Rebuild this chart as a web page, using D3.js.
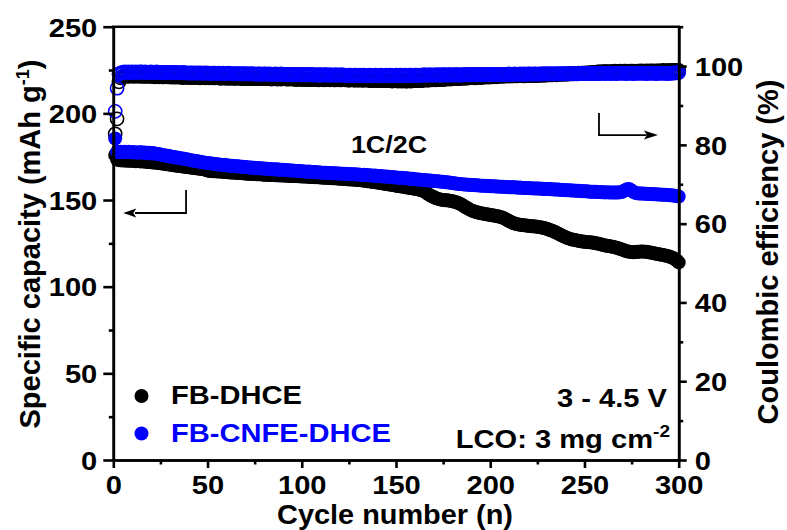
<!DOCTYPE html>
<html>
<head>
<meta charset="utf-8">
<script src="https://cdn.jsdelivr.net/npm/d3@7"></script>
<style>
  body { margin: 0; background: #fff; }
  svg { display: block; }
  text { font-family: "Liberation Sans", Arial, Helvetica, sans-serif; font-weight: bold; }
</style>
</head>
<body>
<svg id="chart" width="787" height="530"></svg>
<script>
// Cycle index 1..300
const cycles = d3.range(1, 301);

// Discharge capacity, FB-DHCE (mAh g-1)
const capacityFB = [
  176.0,173.4,173.0,172.9,172.8,172.9,172.7,172.8,172.6,172.6,
  172.5,172.4,172.5,172.3,172.2,172.3,172.1,172.0,171.9,171.8,
  171.7,171.6,171.5,171.3,171.2,171.0,170.9,170.7,170.6,170.4,
  170.2,170.1,169.9,169.8,169.6,169.5,169.3,169.2,169.0,168.9,
  168.8,168.6,168.5,168.3,168.2,168.0,167.9,167.7,167.4,167.0,
  166.8,166.7,166.6,166.6,166.5,166.4,166.4,166.3,166.2,166.1,
  166.0,165.9,165.9,165.8,165.7,165.6,165.6,165.5,165.4,165.3,
  165.2,165.2,165.1,165.0,165.0,164.9,164.8,164.8,164.7,164.6,
  164.6,164.5,164.5,164.4,164.4,164.3,164.3,164.2,164.2,164.1,
  164.1,164.0,164.0,163.9,163.9,163.8,163.8,163.7,163.7,163.6,
  163.5,163.5,163.4,163.4,163.3,163.3,163.2,163.2,163.1,163.0,
  162.9,162.9,162.8,162.7,162.7,162.6,162.5,162.5,162.4,162.3,
  162.2,162.2,162.1,162.0,161.9,161.9,161.8,161.7,161.6,161.6,
  161.5,161.3,161.2,161.0,160.9,160.7,160.6,160.4,160.3,160.1,
  159.9,159.8,159.6,159.4,159.2,159.0,158.9,158.7,158.5,158.3,
  158.1,157.9,157.8,157.6,157.4,157.2,157.0,156.9,156.7,156.5,
  156.3,156.0,155.8,155.5,155.0,154.3,153.5,152.8,152.2,151.7,
  151.2,150.8,150.5,150.2,150.0,149.9,149.8,149.7,149.5,149.3,
  149.0,148.7,148.3,147.8,147.2,146.5,145.8,145.2,144.6,144.0,
  143.6,143.2,142.9,142.6,142.4,142.2,142.0,141.8,141.6,141.4,
  141.2,141.0,140.8,140.6,140.3,140.0,139.6,139.1,138.5,137.9,
  137.3,136.8,136.4,136.1,135.9,135.7,135.6,135.4,135.3,135.1,
  135.0,134.9,134.8,134.7,134.6,134.4,134.2,134.0,133.7,133.4,
  133.0,132.6,132.2,131.7,131.2,130.7,130.1,129.5,129.0,128.5,
  128.1,127.7,127.4,127.1,126.9,126.6,126.4,126.2,126.1,125.9,
  125.8,125.7,125.6,125.5,125.3,125.1,124.9,124.6,124.3,124.0,
  123.8,123.6,123.4,123.2,123.0,122.8,122.5,122.2,121.8,121.4,
  121.0,120.6,120.3,120.1,120.0,119.9,120.0,120.1,120.2,120.3,
  120.3,120.2,120.1,119.9,119.7,119.5,119.3,119.0,118.8,118.6,
  118.4,118.2,118.0,117.7,117.4,117.0,116.5,115.9,115.1,114.0
];

// Discharge capacity, FB-CNFE-DHCE (mAh g-1)
const capacityCNFE = [
  185.5,177.8,177.6,177.9,177.7,177.8,177.5,177.9,177.6,177.7,
  177.4,177.6,177.3,177.5,177.6,177.2,177.4,177.0,177.3,176.9,
  177.1,176.8,176.5,176.6,176.2,176.0,175.8,175.6,175.5,175.2,
  175.0,174.8,174.6,174.5,174.2,174.0,173.9,173.6,173.5,173.3,
  173.0,172.8,172.7,172.5,172.2,172.1,171.8,171.7,171.5,171.4,
  171.2,171.0,170.9,170.8,170.6,170.5,170.4,170.2,170.3,170.0,
  169.9,169.8,169.8,169.6,169.5,169.5,169.3,169.2,169.2,169.0,
  168.9,168.8,168.8,168.6,168.6,168.4,168.5,168.3,168.2,168.2,
  168.0,168.0,167.9,167.8,167.8,167.6,167.7,167.5,167.4,167.4,
  167.3,167.2,167.2,167.0,167.1,166.9,166.8,166.8,166.7,166.6,
  166.5,166.5,166.3,166.4,166.2,166.1,166.1,166.0,165.9,165.9,
  165.8,165.7,165.7,165.6,165.6,165.5,165.4,165.4,165.3,165.3,
  165.2,165.1,165.1,165.0,165.0,164.9,164.8,164.9,164.7,164.7,
  164.6,164.5,164.6,164.4,164.3,164.3,164.2,164.0,164.1,163.9,
  163.8,163.8,163.6,163.6,163.5,163.4,163.3,163.3,163.1,163.0,
  162.9,162.8,162.8,162.6,162.5,162.5,162.3,162.2,162.2,162.0,
  161.9,161.9,161.7,161.6,161.6,161.4,161.3,161.3,161.1,161.0,
  160.9,160.8,160.7,160.6,160.5,160.3,160.2,160.1,159.9,159.8,
  159.6,159.5,159.3,159.2,159.1,159.0,158.9,158.8,158.8,158.7,
  158.6,158.5,158.5,158.4,158.3,158.3,158.2,158.1,158.1,158.0,
  157.9,157.9,157.8,157.8,157.7,157.6,157.7,157.5,157.5,157.4,
  157.4,157.3,157.3,157.2,157.1,157.2,157.0,157.0,156.9,156.9,
  156.8,156.8,156.7,156.7,156.6,156.6,156.5,156.5,156.4,156.3,
  156.3,156.2,156.2,156.1,156.0,156.0,155.9,155.8,155.8,155.7,
  155.6,155.6,155.5,155.5,155.4,155.3,155.3,155.2,155.1,155.0,
  155.0,154.9,154.8,154.8,154.7,154.7,154.6,154.6,154.5,154.5,
  154.4,154.5,154.4,154.3,154.4,154.3,154.3,154.4,154.5,154.8,
  155.3,155.9,156.4,156.2,155.4,154.6,154.1,153.9,153.8,153.7,
  153.7,153.6,153.6,153.5,153.5,153.4,153.4,153.3,153.2,153.2,
  153.1,153.0,153.0,152.9,152.8,152.7,152.6,152.5,152.3,152.0
];

// Coulombic efficiency, FB-DHCE (%)
const efficiencyFB = [
  82.8,86.6,96.0,97.0,97.3,97.4,97.5,97.4,97.5,97.5,
  97.4,97.5,97.5,97.4,97.5,97.4,97.4,97.5,97.4,97.4,
  97.4,97.3,97.4,97.3,97.4,97.3,97.3,97.4,97.3,97.3,
  97.2,97.3,97.2,97.3,97.2,97.2,97.1,97.2,97.2,97.1,
  97.2,97.1,97.1,97.2,97.1,97.0,97.1,97.1,97.0,97.1,
  97.0,97.1,97.0,97.0,97.1,97.0,96.9,97.0,97.0,96.9,
  97.0,96.9,97.0,96.9,96.9,97.0,96.9,96.9,96.8,96.9,
  96.9,96.8,96.9,96.9,96.8,96.9,96.8,96.9,96.8,96.8,
  96.9,96.8,96.8,96.7,96.8,96.8,96.7,96.8,96.7,96.8,
  96.8,96.7,96.7,96.8,96.7,96.7,96.6,96.7,96.7,96.6,
  96.7,96.6,96.7,96.6,96.6,96.7,96.6,96.6,96.5,96.6,
  96.6,96.5,96.6,96.6,96.5,96.6,96.5,96.5,96.6,96.5,
  96.5,96.6,96.5,96.5,96.4,96.5,96.5,96.4,96.5,96.4,
  96.5,96.4,96.4,96.5,96.4,96.4,96.3,96.4,96.4,96.3,
  96.4,96.3,96.4,96.3,96.3,96.4,96.3,96.2,96.3,96.3,
  96.2,96.3,96.2,96.3,96.2,96.2,96.3,96.2,96.3,96.3,
  96.3,96.4,96.3,96.4,96.4,96.5,96.4,96.5,96.5,96.6,
  96.5,96.6,96.6,96.7,96.6,96.7,96.7,96.8,96.7,96.8,
  96.8,96.9,96.8,96.9,96.9,97.0,96.9,97.0,97.0,97.1,
  97.1,97.0,97.1,97.2,97.1,97.2,97.2,97.3,97.2,97.3,
  97.3,97.4,97.3,97.4,97.4,97.5,97.4,97.5,97.5,97.5,
  97.5,97.5,97.6,97.5,97.6,97.6,97.6,97.5,97.6,97.6,
  97.6,97.6,97.6,97.7,97.6,97.7,97.7,97.7,97.7,97.8,
  97.8,97.8,97.8,97.9,97.8,97.9,97.9,97.9,98.0,97.9,
  98.0,98.0,98.1,98.0,98.1,98.1,98.2,98.1,98.2,98.2,
  98.3,98.3,98.3,98.4,98.4,98.4,98.5,98.5,98.5,98.6,
  98.6,98.6,98.5,98.6,98.6,98.7,98.6,98.6,98.7,98.6,
  98.7,98.7,98.6,98.7,98.7,98.7,98.6,98.7,98.7,98.8,
  98.7,98.7,98.8,98.7,98.8,98.8,98.7,98.8,98.8,98.8,
  98.8,98.9,98.8,98.8,98.9,98.8,98.9,98.9,98.9,98.9
];

// Coulombic efficiency, FB-CNFE-DHCE (%)
const efficiencyCNFE = [
  88.5,94.4,98.0,98.3,98.4,98.5,98.4,98.5,98.4,98.5,
  98.4,98.5,98.4,98.5,98.5,98.4,98.5,98.4,98.4,98.5,
  98.4,98.4,98.5,98.4,98.3,98.4,98.4,98.3,98.4,98.4,
  98.3,98.4,98.3,98.4,98.3,98.3,98.4,98.3,98.3,98.2,
  98.3,98.3,98.2,98.3,98.2,98.3,98.2,98.2,98.3,98.2,
  98.2,98.1,98.2,98.2,98.1,98.2,98.1,98.2,98.1,98.1,
  98.2,98.1,98.1,98.0,98.1,98.1,98.0,98.1,98.0,98.1,
  98.0,98.0,98.1,98.0,98.0,97.9,98.0,98.0,97.9,98.0,
  98.0,97.9,98.0,97.9,97.9,98.0,97.9,97.9,98.0,97.9,
  97.9,97.9,97.8,97.9,97.9,97.8,97.9,97.8,97.9,97.8,
  97.8,97.9,97.8,97.8,97.9,97.8,97.8,97.7,97.8,97.8,
  97.7,97.8,97.8,97.7,97.8,97.7,97.7,97.8,97.7,97.7,
  97.8,97.7,97.7,97.6,97.7,97.7,97.6,97.7,97.7,97.6,
  97.7,97.6,97.7,97.6,97.6,97.7,97.6,97.6,97.7,97.6,
  97.6,97.7,97.6,97.6,97.7,97.6,97.7,97.6,97.6,97.7,
  97.6,97.7,97.7,97.6,97.7,97.6,97.7,97.7,97.6,97.7,
  97.7,97.6,97.7,97.7,97.8,97.7,97.7,97.8,97.7,97.7,
  97.8,97.7,97.8,97.7,97.8,97.8,97.7,97.8,97.8,97.7,
  97.8,97.8,97.8,97.7,97.8,97.8,97.9,97.8,97.8,97.8,
  97.9,97.8,97.8,97.9,97.8,97.9,97.8,97.9,97.9,97.8,
  97.9,97.9,97.8,97.9,97.9,97.9,97.8,97.9,97.9,98.0,
  97.9,97.9,98.0,97.9,97.9,98.0,97.9,98.0,97.9,98.0,
  98.0,97.9,98.0,98.0,97.9,98.0,98.0,98.0,98.1,98.0,
  98.0,98.1,98.0,98.0,98.1,98.0,98.1,98.1,98.0,98.1,
  98.1,98.0,98.1,98.1,98.1,98.0,98.1,98.1,98.2,98.1,
  98.1,98.2,98.1,98.1,98.2,98.1,98.2,98.1,98.2,98.2,
  98.1,98.2,98.2,98.1,98.2,98.2,98.1,98.2,98.2,98.2,
  98.2,98.1,98.2,98.2,98.2,98.1,98.2,98.2,98.2,98.2,
  98.2,98.2,98.1,98.2,98.2,98.2,98.2,98.1,98.2,98.2,
  98.2,98.2,98.2,98.1,98.2,98.2,98.2,98.3,98.3,98.4
];

// Axis ticks
const xTicks = [0, 50, 100, 150, 200, 250, 300];
const xMinorTicks = [25, 75, 125, 175, 225, 275];
const capTicks = [0, 50, 100, 150, 200, 250];
const capMinorTicks = [25, 75, 125, 175, 225];
const ceTicks = [0, 20, 40, 60, 80, 100];
const ceMinorTicks = [10, 30, 50, 70, 90, 110];

// Series names and colours
const seriesNames = ["FB-DHCE", "FB-CNFE-DHCE"];
const seriesColors = ["#000000", "#0000ff"];

const plotL = 113.3, plotR = 678.7, plotT = 26.7, plotB = 460;
const SX = 1.12;  // horizontal glyph widening for upright text
const AXIS_W = 2.6;

const svg = d3.select("#chart");

const x = d3.scaleLinear().domain([0, 300]).range([plotL, plotR]);
const yCap = d3.scaleLinear().domain([0, 250]).range([plotB, plotT]);
const yCE = d3.scaleLinear().domain([0, 110]).range([plotB, plotT]);

// Upright text, widened horizontally about its anchor point
function label(parent, px, py, anchor, size, fill, sx) {
  return parent.append("text")
    .attr("transform", `translate(${px},${py}) scale(${sx || SX},1)`)
    .attr("text-anchor", anchor)
    .attr("font-size", size)
    .attr("fill", fill || "#000");
}

// ---- data marks (drawn first, axes over them) ----
const R = 7;
const marks = svg.append("g");

function filledSeries(vals, color) {
  marks.append("g").selectAll("circle")
    .data(cycles.map((c, i) => [c, vals[i]]))
    .join("circle")
    .attr("cx", d => x(d[0]))
    .attr("cy", d => yCap(d[1]))
    .attr("r", R)
    .attr("fill", color);
}
function openSeries(vals, color) {
  marks.append("g").selectAll("circle")
    .data(cycles.map((c, i) => [c, vals[i]]))
    .join("circle")
    .attr("cx", d => x(d[0]))
    .attr("cy", d => yCE(d[1]))
    .attr("r", 6.6)
    .attr("fill", "none")
    .attr("stroke", color)
    .attr("stroke-width", 1.6);
}

filledSeries(capacityFB, seriesColors[0]);
openSeries(efficiencyFB, seriesColors[0]);
filledSeries(capacityCNFE, seriesColors[1]);
openSeries(efficiencyCNFE, seriesColors[1]);

// ---- axes ----
function styleAxis(g) {
  g.select(".domain").attr("stroke", "#000").attr("stroke-width", AXIS_W);
  g.selectAll(".tick line").attr("stroke", "#000").attr("stroke-width", AXIS_W);
}

// bottom
const gx = svg.append("g").attr("transform", `translate(0,${plotB})`);
gx.call(d3.axisBottom(x).tickValues(xTicks).tickSize(8).tickSizeOuter(0).tickFormat(d3.format("d")));
styleAxis(gx);
gx.selectAll(".tick text")
  .attr("y", null).attr("dy", null)
  .attr("transform", `translate(0,34) scale(${SX},1)`)
  .attr("font-size", 26).attr("fill", "#000");
const gxm = svg.append("g").attr("transform", `translate(0,${plotB})`);
gxm.call(d3.axisBottom(x).tickValues(xMinorTicks).tickSize(4.5).tickSizeOuter(0).tickFormat(""));
styleAxis(gxm);

// left
const gl = svg.append("g").attr("transform", `translate(${plotL},0)`);
gl.call(d3.axisLeft(yCap).tickValues(capTicks).tickSize(10).tickSizeOuter(0).tickFormat(d3.format("d")));
styleAxis(gl);
gl.selectAll(".tick text")
  .attr("x", null).attr("dy", null)
  .attr("transform", `translate(-16,9.3) scale(${SX},1)`)
  .attr("font-size", 26).attr("fill", "#000");
const glm = svg.append("g").attr("transform", `translate(${plotL},0)`);
glm.call(d3.axisLeft(yCap).tickValues(capMinorTicks).tickSize(4.5).tickSizeOuter(0).tickFormat(""));
styleAxis(glm);

// right
const gr = svg.append("g").attr("transform", `translate(${plotR},0)`);
gr.call(d3.axisRight(yCE).tickValues(ceTicks).tickSize(8).tickSizeOuter(0).tickFormat(d3.format("d")));
styleAxis(gr);
gr.selectAll(".tick text")
  .attr("x", null).attr("dy", null)
  .attr("transform", `translate(16,9.3) scale(${SX},1)`)
  .attr("font-size", 26).attr("fill", "#000");
const grm = svg.append("g").attr("transform", `translate(${plotR},0)`);
grm.call(d3.axisRight(yCE).tickValues(ceMinorTicks).tickSize(4.5).tickSizeOuter(0).tickFormat(""));
styleAxis(grm);

// d3.axis sets a sans-serif family on each axis group; use the page font instead
svg.selectAll("g").attr("font-family", null);

// top frame line
svg.append("line")
  .attr("x1", plotL - AXIS_W / 2).attr("x2", plotR + AXIS_W / 2)
  .attr("y1", plotT).attr("y2", plotT)
  .attr("stroke", "#000").attr("stroke-width", AXIS_W);

// ---- axis titles ----
label(svg, (plotL + plotR) / 2 - 1, 524.2, "middle", 27, "#000", 1.07).text("Cycle number (n)");

const lt = svg.append("text")
  .attr("transform", `translate(40,244) rotate(-90)`)
  .attr("text-anchor", "middle")
  .attr("font-size", 29);
lt.append("tspan").text("Specific capacity (mAh g");
lt.append("tspan").attr("font-size", 18).attr("dy", -11).text("-1");
lt.append("tspan").attr("dy", 11).text(")");

svg.append("text")
  .attr("transform", `translate(778,252) rotate(-90)`)
  .attr("text-anchor", "middle")
  .attr("font-size", 29)
  .text("Coulombic efficiency (%)");

// ---- annotations ----
label(svg, 389, 153, "middle", 24).text("1C/2C");
label(svg, 667, 407, "end", 26).text("3 - 4.5 V");
const lco = label(svg, 670, 448, "end", 26);
lco.append("tspan").text("LCO: 3 mg cm");
lco.append("tspan").attr("font-size", 17).attr("dy", -11).text("-2");

// direction arrows pointing to each axis
const arrows = svg.append("g").attr("stroke", "#000").attr("stroke-width", 1.8).attr("fill", "none");
// to the capacity axis
arrows.append("path").attr("d", d3.line()([
  [x(38.6), yCap(155.8)], [x(38.6), yCap(142.5)], [x(11.5), yCap(142.5)]
]));
svg.append("path").attr("fill", "#000").attr("d", d3.line()([
  [x(5.3), yCap(142.5)], [x(12.2), yCap(142.5) - 4.5], [x(10.6), yCap(142.5)], [x(12.2), yCap(142.5) + 4.5]
]) + "Z");
// to the efficiency axis
arrows.append("path").attr("d", d3.line()([
  [x(257.7), yCE(88.1)], [x(257.7), yCE(82.5)], [x(283), yCE(82.5)]
]));
svg.append("path").attr("fill", "#000").attr("d", d3.line()([
  [x(289), yCE(82.5)], [x(281.5), yCE(82.5) - 4.5], [x(283.2), yCE(82.5)], [x(281.5), yCE(82.5) + 4.5]
]) + "Z");

// ---- legend ----
const legendY = [396, 433.5];
seriesNames.forEach((name, i) => {
  svg.append("circle").attr("cx", 141.5).attr("cy", legendY[i]).attr("r", 7).attr("fill", seriesColors[i]);
  label(svg, 171, legendY[i] + 8, "start", 26, seriesColors[i]).text(name);
});
</script>
</body>
</html>
